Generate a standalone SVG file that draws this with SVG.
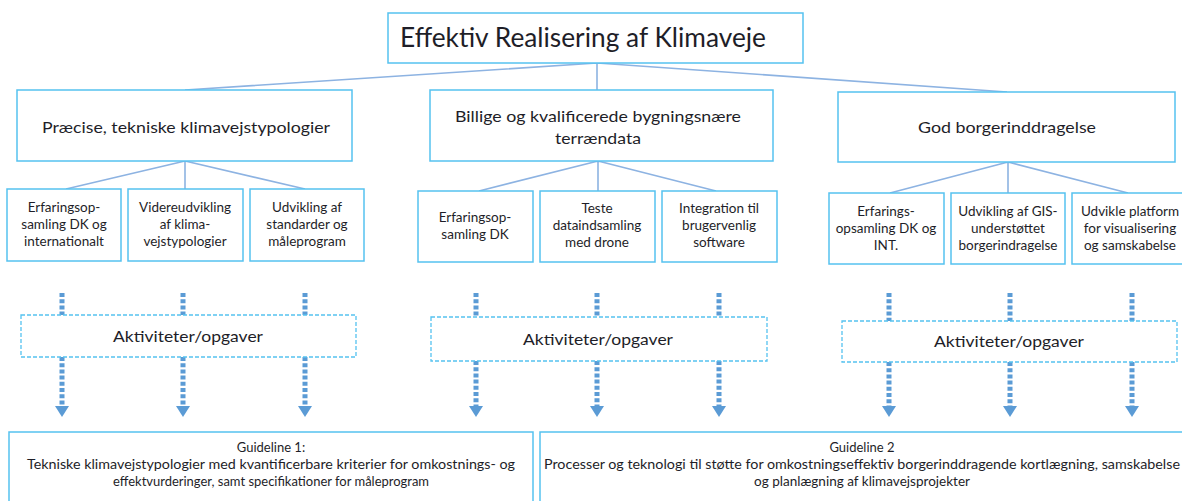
<svg xmlns="http://www.w3.org/2000/svg" width="1182" height="501" viewBox="0 0 1182 501">
<style>
  .box{fill:#fff;stroke:#55C2F0;stroke-width:1.5}
  .dbox{fill:#fff;stroke:#55C2F0;stroke-width:1.3;stroke-dasharray:4 2}
  .conn{stroke:#8DB3E2;stroke-width:1.6;fill:none}
  .dot{stroke:#5B9BD5;stroke-width:5;stroke-dasharray:4 2.2;fill:none}
  text{font-family:Lato,"Liberation Sans",sans-serif;fill:#1e1e28;text-anchor:middle}
  .t1{font-size:26px}
  .t2{font-size:16px}
  .t3{font-size:13.5px}
  .ta{font-size:16px}
  .tg{font-size:13px}
</style>
<defs>
  <marker id="ah" markerUnits="userSpaceOnUse" markerWidth="11" markerHeight="14" refX="1" refY="7" orient="auto" viewBox="0 0 11 14">
    <polygon points="0,0 11,7 0,14" fill="#5B9BD5"/>
  </marker>
</defs>
<rect width="1182" height="501" fill="#fff"/>

<g id="connectors">
  <path class="conn" d="M597,63 L185,90 M597,63 L597,90 M597,63 L1007,92"/>
  <path class="conn" d="M185,161 L66,189 M185,161 L185,189 M185,161 L305,189"/>
  <path class="conn" d="M598,161 L479,191 M598,161 L598,191 M598,161 L716,191"/>
  <path class="conn" d="M1008,162 L890,193 M1008,162 L1008,193 M1008,162 L1128,193"/>
  <path class="dot" d="M62,293 V315 M183,293 V315 M305,293 V315"/>
  <path class="dot" d="M476,293 V317 M597,293 V317 M719,293 V317"/>
  <path class="dot" d="M889,293 V321 M1010,293 V321 M1132,293 V321"/>
  <path class="dot" d="M62,357 V407" marker-end="url(#ah)"/>
  <path class="dot" d="M183,357 V407" marker-end="url(#ah)"/>
  <path class="dot" d="M305,357 V407" marker-end="url(#ah)"/>
  <path class="dot" d="M476,361 V407" marker-end="url(#ah)"/>
  <path class="dot" d="M597,361 V407" marker-end="url(#ah)"/>
  <path class="dot" d="M719,361 V407" marker-end="url(#ah)"/>
  <path class="dot" d="M889,362 V407" marker-end="url(#ah)"/>
  <path class="dot" d="M1010,362 V407" marker-end="url(#ah)"/>
  <path class="dot" d="M1132,362 V407" marker-end="url(#ah)"/>
</g>

<g id="title">
  <rect class="box" x="388" y="13" width="415" height="50"/>
  <text class="t1" x="583" y="47" textLength="366" lengthAdjust="spacingAndGlyphs">Effektiv Realisering af Klimaveje</text>
</g>

<g id="boxA">
  <rect class="box" x="17" y="90" width="335" height="71"/>
  <text class="t2" x="186" y="133" textLength="288" lengthAdjust="spacingAndGlyphs">Præcise, tekniske klimavejstypologier</text>
</g>
<g id="boxB">
  <rect class="box" x="430" y="90" width="343" height="71"/>
  <text class="t2" x="598" y="122" textLength="286" lengthAdjust="spacingAndGlyphs">Billige og kvalificerede bygningsnære</text>
  <text class="t2" x="598" y="144" textLength="86" lengthAdjust="spacingAndGlyphs">terrændata</text>
</g>
<g id="boxC">
  <rect class="box" x="838" y="92" width="337" height="70"/>
  <text class="t2" x="1007" y="133" textLength="178" lengthAdjust="spacingAndGlyphs">God borgerinddragelse</text>
</g>

<g id="boxA1">
  <rect class="box" x="7" y="189" width="114" height="72"/>
  <text class="t3" x="64" y="212">Erfaringsop-</text>
  <text class="t3" x="64" y="229">samling DK og</text>
  <text class="t3" x="64" y="246">internationalt</text>
</g>
<g id="boxA2">
  <rect class="box" x="128" y="189" width="115" height="72"/>
  <text class="t3" x="185" y="212">Videreudvikling</text>
  <text class="t3" x="185" y="229">af klima-</text>
  <text class="t3" x="185" y="246">vejstypologier</text>
</g>
<g id="boxA3">
  <rect class="box" x="250" y="189" width="114" height="72"/>
  <text class="t3" x="307" y="212">Udvikling af</text>
  <text class="t3" x="307" y="229">standarder og</text>
  <text class="t3" x="307" y="246">måleprogram</text>
</g>

<g id="boxB1">
  <rect class="box" x="418" y="191" width="115" height="71"/>
  <text class="t3" x="475" y="222">Erfaringsop-</text>
  <text class="t3" x="475" y="239">samling DK</text>
</g>
<g id="boxB2">
  <rect class="box" x="540" y="191" width="115" height="71"/>
  <text class="t3" x="597" y="213">Teste</text>
  <text class="t3" x="597" y="230">dataindsamling</text>
  <text class="t3" x="597" y="247">med drone</text>
</g>
<g id="boxB3">
  <rect class="box" x="662" y="191" width="115" height="71"/>
  <text class="t3" x="719" y="213">Integration til</text>
  <text class="t3" x="719" y="230">brugervenlig</text>
  <text class="t3" x="719" y="247">software</text>
</g>

<g id="boxC1">
  <rect class="box" x="829" y="193" width="115" height="71"/>
  <text class="t3" x="886" y="216">Erfarings-</text>
  <text class="t3" x="886" y="233">opsamling DK og</text>
  <text class="t3" x="886" y="250">INT.</text>
</g>
<g id="boxC2">
  <rect class="box" x="951" y="193" width="114" height="71"/>
  <text class="t3" x="1008" y="216">Udvikling af GIS-</text>
  <text class="t3" x="1008" y="233">understøttet</text>
  <text class="t3" x="1008" y="250">borgerindragelse</text>
</g>
<g id="boxC3">
  <rect class="box" x="1072" y="193" width="116" height="71"/>
  <text class="t3" x="1130" y="216">Udvikle platform</text>
  <text class="t3" x="1130" y="233">for visualisering</text>
  <text class="t3" x="1130" y="250">og samskabelse</text>
</g>

<g id="actA">
  <rect class="dbox" x="21" y="315" width="335" height="42"/>
  <text class="ta" x="188" y="342" textLength="150" lengthAdjust="spacingAndGlyphs">Aktiviteter/opgaver</text>
</g>
<g id="actB">
  <rect class="dbox" x="431" y="317" width="336" height="44"/>
  <text class="ta" x="598" y="345" textLength="150" lengthAdjust="spacingAndGlyphs">Aktiviteter/opgaver</text>
</g>
<g id="actC">
  <rect class="dbox" x="842" y="321" width="335" height="41"/>
  <text class="ta" x="1009" y="347" textLength="150" lengthAdjust="spacingAndGlyphs">Aktiviteter/opgaver</text>
</g>

<g id="guide1">
  <rect class="box" x="9" y="432" width="524" height="75"/>
  <text class="tg" x="271" y="452">Guideline 1:</text>
  <text class="tg" x="271" y="469" textLength="488" lengthAdjust="spacingAndGlyphs">Tekniske klimavejstypologier med kvantificerbare kriterier for omkostnings- og</text>
  <text class="tg" x="271" y="486" textLength="316" lengthAdjust="spacingAndGlyphs">effektvurderinger, samt specifikationer for måleprogram</text>
</g>
<g id="guide2">
  <rect class="box" x="540" y="432" width="650" height="75"/>
  <text class="tg" x="862" y="452">Guideline 2</text>
  <text class="tg" x="862" y="469" textLength="636" lengthAdjust="spacingAndGlyphs">Processer og teknologi til støtte for omkostningseffektiv borgerinddragende kortlægning, samskabelse</text>
  <text class="tg" x="862" y="486" textLength="216" lengthAdjust="spacingAndGlyphs">og planlægning af klimavejsprojekter</text>
</g>
</svg>
